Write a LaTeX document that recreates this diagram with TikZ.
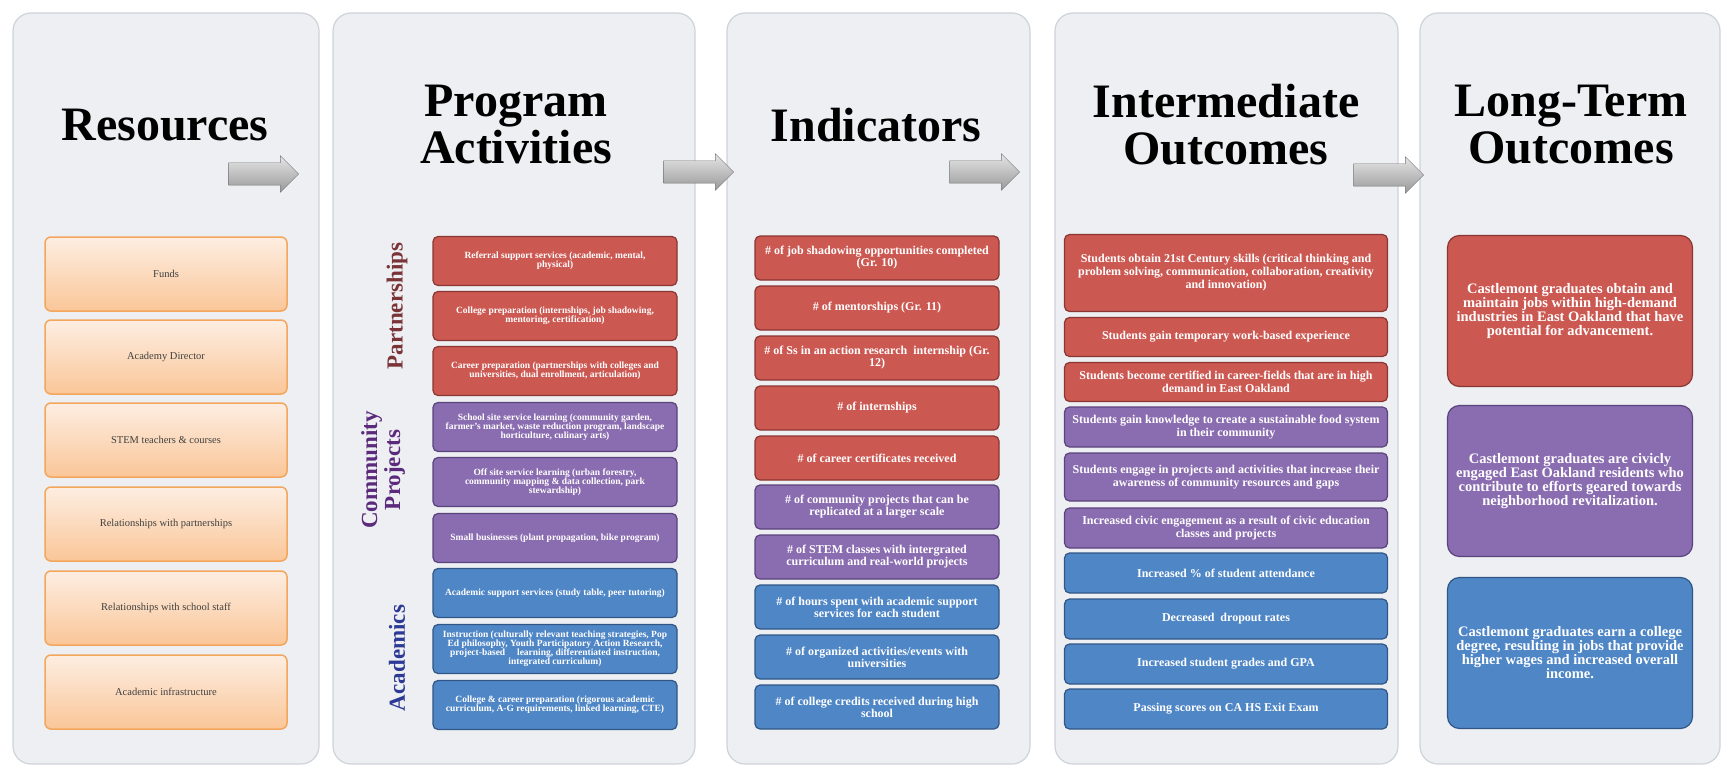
\documentclass[tikz,border=0pt]{standalone}
\usepackage{fontspec}
\setmainfont{Liberation Serif}
\usepackage{xcolor}
\usepackage{tikz}
\usetikzlibrary{shapes.arrows, positioning}
\definecolor{panelgray}{RGB}{237, 239, 242}
\definecolor{paneledge}{RGB}{206, 211, 218}
\definecolor{boxred}{RGB}{204, 88, 82}
\definecolor{edgered}{RGB}{138, 54, 50}
\definecolor{boxpurple}{RGB}{138, 108, 176}
\definecolor{edgepurple}{RGB}{90, 68, 124}
\definecolor{boxblue}{RGB}{79, 134, 198}
\definecolor{edgeblue}{RGB}{48, 86, 134}
\definecolor{peachtop}{RGB}{253, 238, 226}
\definecolor{peachbot}{RGB}{250, 198, 152}
\definecolor{peachedge}{RGB}{243, 166, 92}
\definecolor{labelred}{RGB}{122, 52, 56}
\definecolor{labelpurple}{RGB}{92, 42, 124}
\definecolor{labelblue}{RGB}{44, 58, 150}

\tikzset{
  panel/.style={draw=paneledge, line width=1.2pt, fill=panelgray, rounded corners=18pt},
  heading/.style={font=\fontsize{48}{47}\selectfont\bfseries, align=center},
  sidelabel/.style={rotate=90, font=\fontsize{23}{23}\selectfont\bfseries, align=center},
  resbox/.style={draw=peachedge, line width=1.5pt, top color=peachtop, bottom color=peachbot,
    rounded corners=6pt, minimum width=242pt, minimum height=74pt,
    font=\fontsize{10.5}{11}\selectfont, text=black!75, align=center},
  colbox/.style={line width=1.2pt, rounded corners=5pt, text=white, align=center, inner sep=1pt},
  redbox/.style={colbox, draw=edgered, fill=boxred},
  purplebox/.style={colbox, draw=edgepurple, fill=boxpurple},
  bluebox/.style={colbox, draw=edgeblue, fill=boxblue},
  actbox/.style={minimum width=244pt, minimum height=49pt, font=\fontsize{9.5}{9}\selectfont\bfseries},
  indbox/.style={minimum width=244pt, minimum height=44pt, font=\fontsize{12}{12}\selectfont\bfseries},
  midbox/.style={minimum width=323pt, font=\fontsize{12}{13}\selectfont\bfseries},
  longbox/.style={minimum width=245pt, minimum height=151pt, rounded corners=12pt,
    font=\fontsize{14.5}{14}\selectfont\bfseries},
  flowarrow/.style={shape=single arrow, draw=black!55, top color=black!10, bottom color=black!40,
    minimum height=70pt, inner xsep=0pt, inner ysep=11pt, single arrow head extend=7pt}
}

\begin{document}
\begin{tikzpicture}[x=1pt, y=-1pt]
    \path[fill=white] (0,0) rectangle (1723,770);
    \useasboundingbox (0,0) rectangle (1723,770);

    % Panels
    \draw[panel] (13,13) rectangle (319,764);
    \draw[panel] (333,13) rectangle (695,764);
    \draw[panel] (727,13) rectangle (1030,764);
    \draw[panel] (1055,13) rectangle (1398,764);
    \draw[panel] (1420,13) rectangle (1720,764);

    % Headings
    \node[heading] (headres) at (165,125) {Resources};
    \node[heading] (headact) at (516,125) {Program\\Activities};
    \node[heading] (headind) at (876,125) {Indicators};
    \node[heading] (headmid) at (1226,125) {Intermediate\\Outcomes};
    \node[heading] (headlong) at (1571,125) {Long-Term\\Outcomes};

    % Arrows between panels
    \node[flowarrow] (arr1) at (258,174) {};
    \node[flowarrow] (arr2) at (693,172) {};
    \node[flowarrow] (arr3) at (979,172) {};
    \node[flowarrow] (arr4) at (1383,175) {};

    % Resources
    \node[resbox] (res1) at (166,274) {Funds};
    \node[resbox] (res2) at (166,357) {Academy Director};
    \node[resbox] (res3) at (166,440) {STEM teachers \& courses};
    \node[resbox] (res4) at (166,524) {Relationships with partnerships};
    \node[resbox] (res5) at (166,608) {Relationships with school staff};
    \node[resbox] (res6) at (166,692) {Academic infrastructure};

    % Program activities
    \node[sidelabel, text=labelred] (lblpart) at (397,306) {Partnerships};
    \node[sidelabel, text=labelpurple] (lblcomm) at (383,470) {Community\\Projects};
    \node[sidelabel, text=labelblue] (lblacad) at (397,658) {Academics};

    \node[redbox, actbox] (act1) at (555,261) {Referral support services (academic, mental,\\physical)};
    \node[redbox, actbox] (act2) at (555,316) {College preparation (internships, job shadowing,\\mentoring, certification)};
    \node[redbox, actbox] (act3) at (555,371) {Career preparation (partnerships with colleges and\\universities, dual enrollment, articulation)};
    \node[purplebox, actbox] (act4) at (555,427) {School site service learning (community garden,\\farmer's market, waste reduction program, landscape\\horticulture, culinary arts)};
    \node[purplebox, actbox] (act5) at (555,482) {Off site service learning (urban forestry,\\community mapping \& data collection, park\\stewardship)};
    \node[purplebox, actbox] (act6) at (555,538) {Small businesses (plant propagation, bike program)};
    \node[bluebox, actbox] (act7) at (555,593) {Academic support services (study table, peer tutoring)};
    \node[bluebox, actbox] (act8) at (555,649) {Instruction (culturally relevant teaching strategies, Pop\\Ed philosophy, Youth Participatory Action Research,\\project-based \quad learning, differentiated instruction,\\integrated curriculum)};
    \node[bluebox, actbox] (act9) at (555,705) {College \& career preparation (rigorous academic\\curriculum, A-G requirements, linked learning, CTE)};

    % Indicators
    \node[redbox, indbox] (ind1) at (877,258) {\# of job shadowing opportunities completed\\(Gr. 10)};
    \node[redbox, indbox] (ind2) at (877,308) {\# of mentorships (Gr. 11)};
    \node[redbox, indbox] (ind3) at (877,358) {\# of Ss in an action research \ internship (Gr.\\12)};
    \node[redbox, indbox] (ind4) at (877,408) {\# of internships};
    \node[redbox, indbox] (ind5) at (877,458) {\# of career certificates received};
    \node[purplebox, indbox] (ind6) at (877,507) {\# of community projects that can be\\replicated at a larger scale};
    \node[purplebox, indbox] (ind7) at (877,557) {\# of STEM classes with intergrated\\curriculum and real-world projects};
    \node[bluebox, indbox] (ind8) at (877,607) {\# of hours spent with academic support\\services for each student};
    \node[bluebox, indbox] (ind9) at (877,657) {\# of organized activities/events with\\universities};
    \node[bluebox, indbox] (ind10) at (877,707) {\# of college credits received during high\\school};

    % Intermediate outcomes
    \node[redbox, midbox, minimum height=77pt] (mid1) at (1226,273) {Students obtain 21st Century skills (critical thinking and\\problem solving, communication, collaboration, creativity\\and innovation)};
    \node[redbox, midbox, minimum height=39pt] (mid2) at (1226,337) {Students gain temporary work-based experience};
    \node[redbox, midbox, minimum height=39pt] (mid3) at (1226,382) {Students become certified in career-fields that are in high\\demand in East Oakland};
    \node[purplebox, midbox, minimum height=40pt] (mid4) at (1226,427) {Students gain knowledge to create a sustainable food system\\in their community};
    \node[purplebox, midbox, minimum height=48pt] (mid5) at (1226,477) {Students engage in projects and activities that increase their\\awareness of community resources and gaps};
    \node[purplebox, midbox, minimum height=40pt] (mid6) at (1226,528) {Increased civic engagement as a result of civic education\\classes and projects};
    \node[bluebox, midbox, minimum height=40pt] (mid7) at (1226,573) {Increased \% of student attendance};
    \node[bluebox, midbox, minimum height=40pt] (mid8) at (1226,619) {Decreased \ dropout rates};
    \node[bluebox, midbox, minimum height=40pt] (mid9) at (1226,664) {Increased student grades and GPA};
    \node[bluebox, midbox, minimum height=40pt] (mid10) at (1226,709) {Passing scores on CA HS Exit Exam};

    % Long-term outcomes
    \node[redbox, longbox] (long1) at (1570,311) {Castlemont graduates obtain and\\maintain jobs within high-demand\\industries in East Oakland that have\\potential for advancement.};
    \node[purplebox, longbox] (long2) at (1570,481) {Castlemont graduates are civicly\\engaged East Oakland residents who\\contribute to efforts geared towards\\neighborhood revitalization.};
    \node[bluebox, longbox] (long3) at (1570,653) {Castlemont graduates earn a college\\degree, resulting in jobs that provide\\higher wages and increased overall\\income.};
\end{tikzpicture}
\end{document}
